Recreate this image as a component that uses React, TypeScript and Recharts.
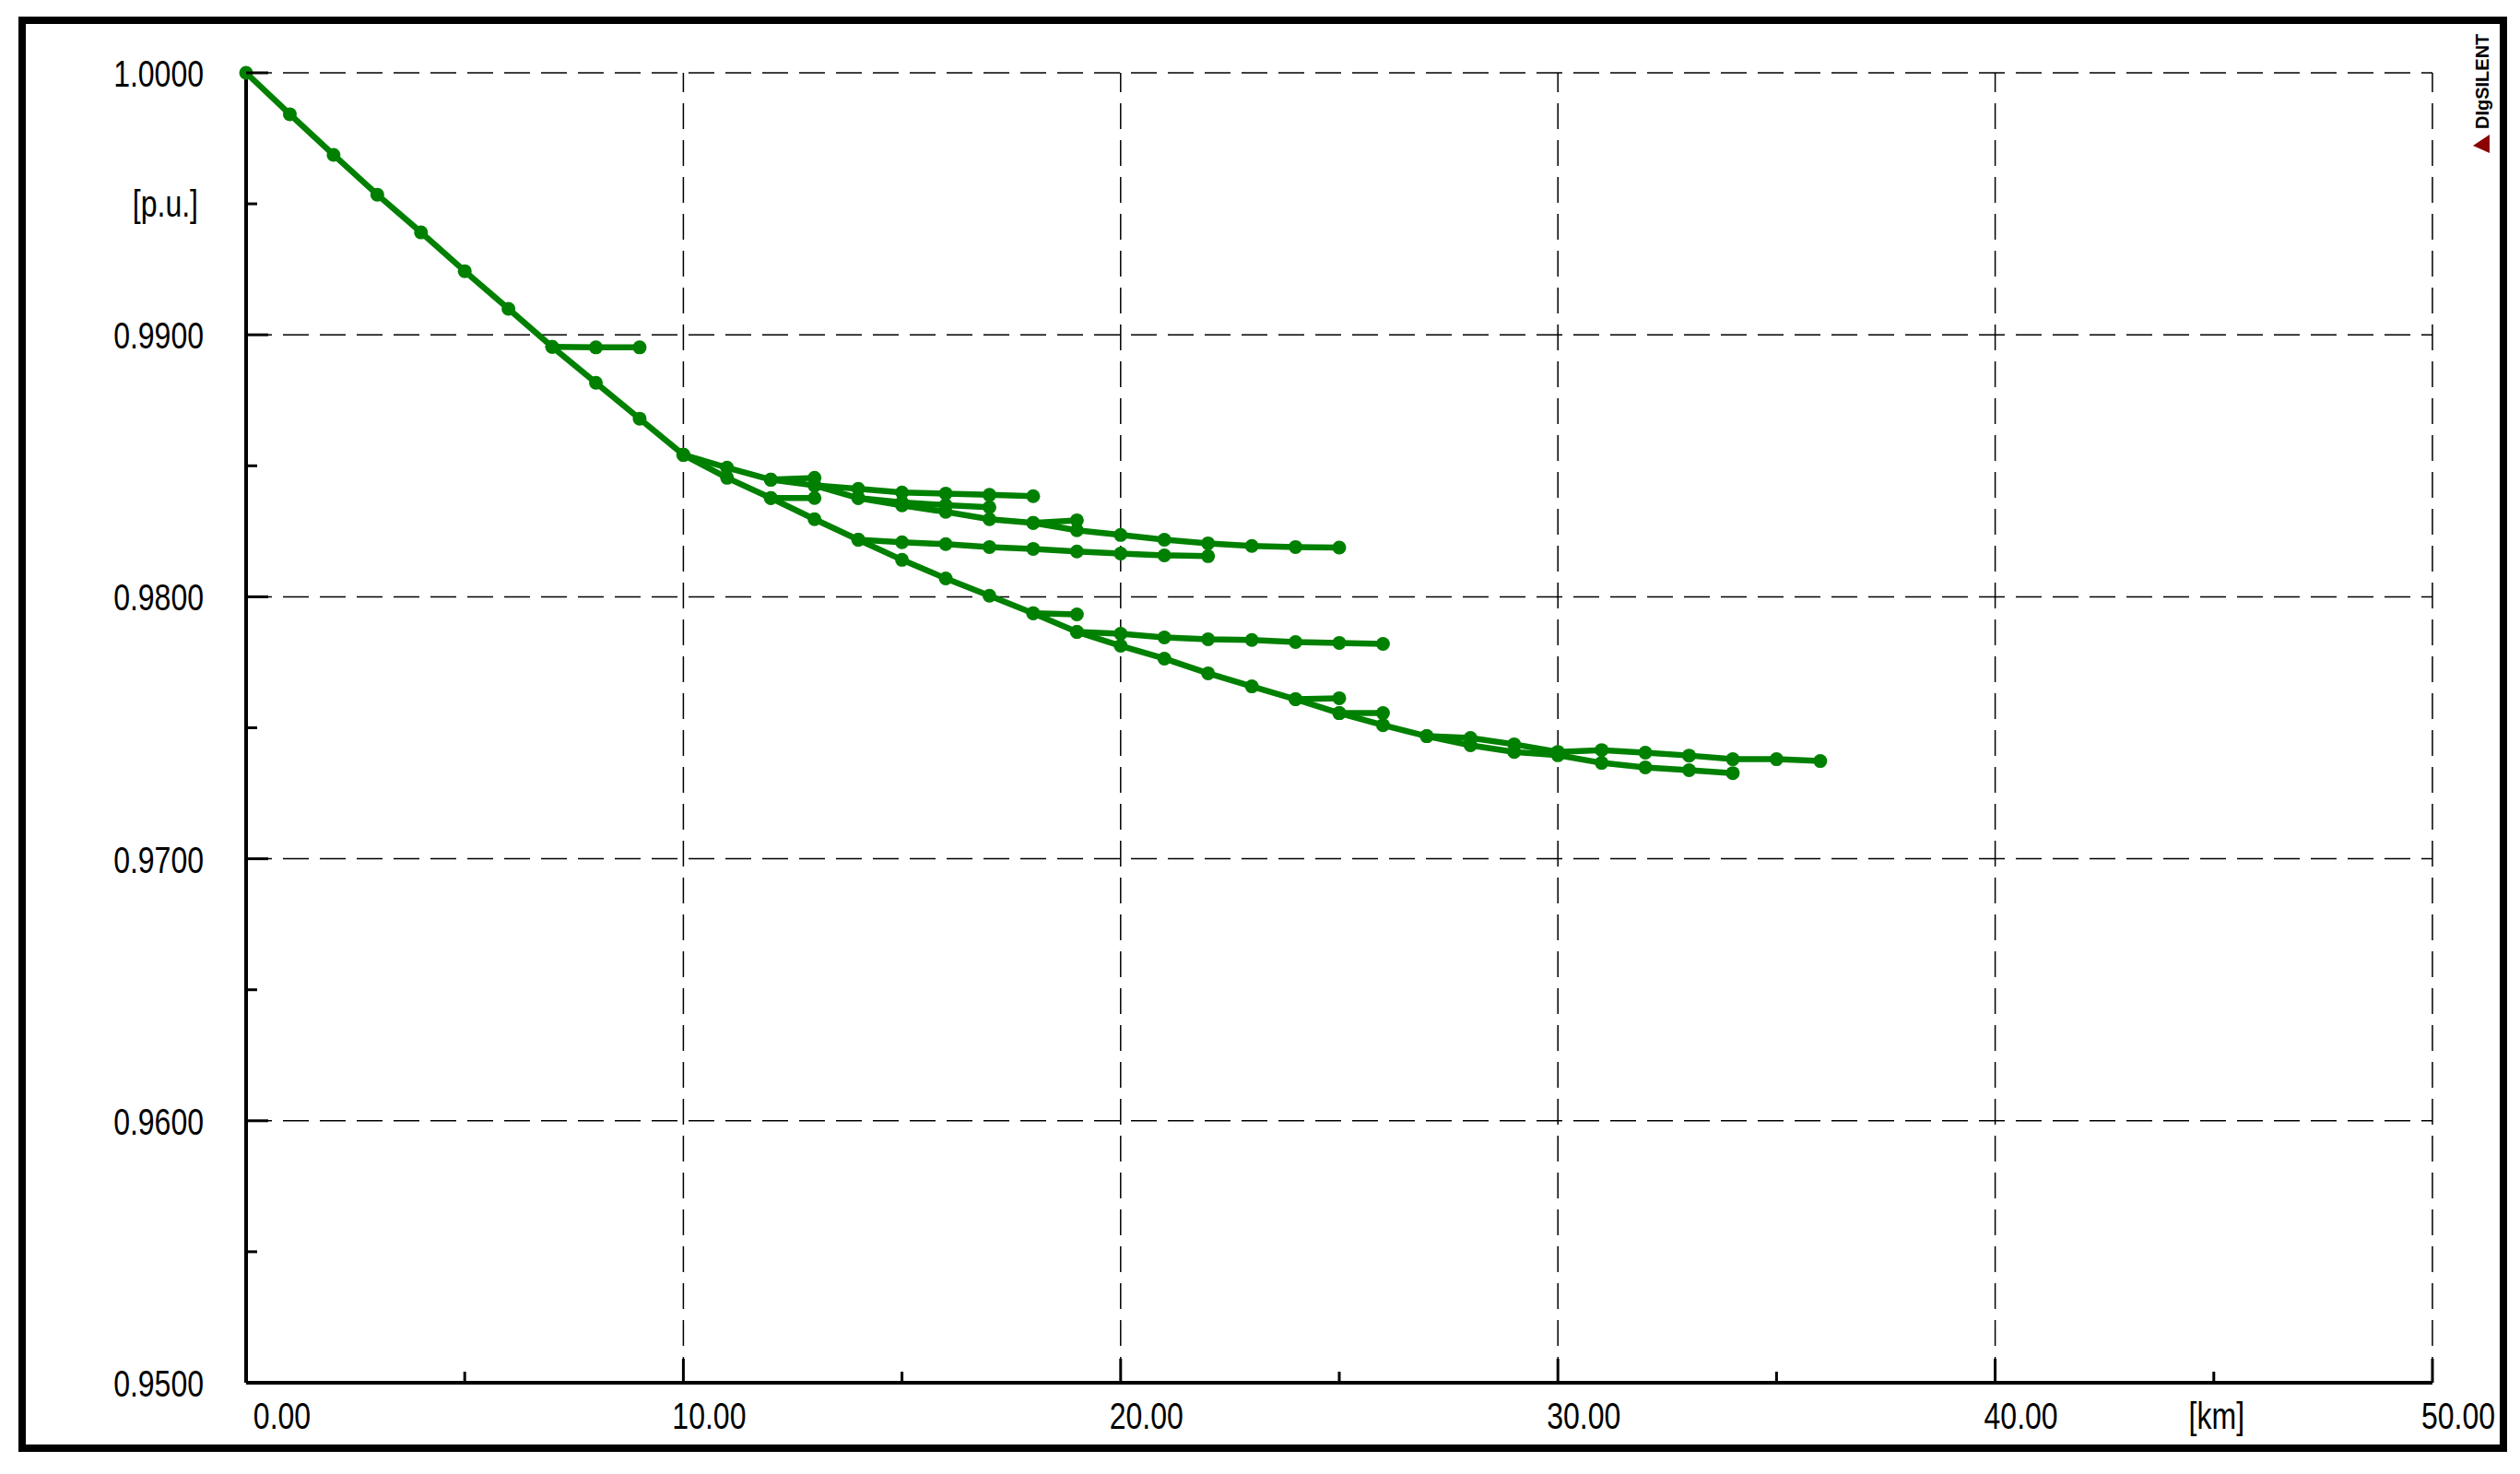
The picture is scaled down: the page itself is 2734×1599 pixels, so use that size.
import React from 'react';
import { LineChart, Line, XAxis, YAxis, ReferenceLine } from 'recharts';

const W = 2734;
const H = 1599;
const GREEN = '#008000';
const FONT = '"Liberation Sans", Arial, sans-serif';

// ---- axes ----
const xTicks = [0, 5, 10, 15, 20, 25, 30, 35, 40, 45, 50];
const xMajor = [10, 20, 30, 40, 50];
const xLabels: Record<number, string> = { 0: '0.00', 10: '10.00', 20: '20.00', 30: '30.00', 40: '40.00', 50: '50.00', 45: '[km]' };
const yTicks = [0.95, 0.955, 0.96, 0.965, 0.97, 0.975, 0.98, 0.985, 0.99, 0.995, 1.0];
const yMajor = [0.96, 0.97, 0.98, 0.99, 1.0];
const yLabels: Record<string, string> = { '0.95': '0.9500', '0.96': '0.9600', '0.97': '0.9700', '0.98': '0.9800', '0.99': '0.9900', '1': '1.0000', '0.995': '[p.u.]' };

// ---- series: [km, p.u.] ----
const trunkA: [number, number][] = [
  [0, 1.0], [1, 0.99842], [2, 0.99687], [3, 0.99535], [4, 0.99391], [5, 0.99243], [6, 0.99099],
  [7, 0.98954], [8, 0.98817], [9, 0.9868], [10, 0.98542],
];
const trunkB: [number, number][] = [
  [10, 0.98542], [11, 0.98454], [12, 0.98377], [13, 0.98296], [14, 0.98218], [15, 0.98141], [16, 0.9807],
  [17, 0.98004], [18, 0.97937], [19, 0.97866], [20, 0.97813], [21, 0.97764], [22, 0.97708], [23, 0.97658],
  [24, 0.97609], [25, 0.97556], [26, 0.9751], [27, 0.97468], [28, 0.97433], [29, 0.97408], [30, 0.97395],
  [31, 0.97366], [32, 0.97349], [33, 0.97338], [34, 0.97327],
];
const branch7: [number, number][] = [[7, 0.98954], [8, 0.98952], [9, 0.98952]];
const upperTop: [number, number][] = [
  [10, 0.98542], [11, 0.98493], [12, 0.98447], [13, 0.98425], [14, 0.98412], [15, 0.98398],
  [16, 0.98394], [17, 0.98389], [18, 0.98384],
];
const upperStub: [number, number][] = [[12, 0.98447], [13, 0.98454]];
const upperMid: [number, number][] = [
  [13, 0.98425], [14, 0.98377], [15, 0.98349], [16, 0.98324], [17, 0.98296], [18, 0.98282], [19, 0.98254],
  [20, 0.98236], [21, 0.98218], [22, 0.98204], [23, 0.98194], [24, 0.9819], [25, 0.98188],
];
const upperSide: [number, number][] = [[14, 0.98377], [15, 0.9836], [16, 0.9835], [17, 0.98342]];
const midStub: [number, number][] = [[18, 0.98282], [19, 0.98292]];
const trunkStub12: [number, number][] = [[12, 0.98377], [13, 0.98377]];
const branch14: [number, number][] = [
  [14, 0.98218], [15, 0.98208], [16, 0.98201], [17, 0.9819], [18, 0.98183], [19, 0.98173],
  [20, 0.98165], [21, 0.98158], [22, 0.98155],
];
const stub18: [number, number][] = [[18, 0.97937], [19, 0.97933]];
const branch19: [number, number][] = [
  [19, 0.97866], [20, 0.97859], [21, 0.97845], [22, 0.97838], [23, 0.97835], [24, 0.97827],
  [25, 0.97824], [26, 0.9782],
];
const stub24: [number, number][] = [[24, 0.97609], [25, 0.97613]];
const stub25: [number, number][] = [[25, 0.97556], [26, 0.97556]];
const branch27: [number, number][] = [
  [27, 0.97468], [28, 0.97461], [29, 0.97437], [30, 0.97408], [31, 0.97415], [32, 0.97405],
  [33, 0.97394], [34, 0.9738], [35, 0.9738], [36, 0.97373],
];

const series = [
  trunkA, trunkB, branch7, upperTop, upperStub, upperMid, upperSide, midStub, trunkStub12,
  branch14, stub18, branch19, stub24, stub25, branch27,
];

const toData = (s: [number, number][]) => s.map(([km, v]) => ({ km, v }));

const isMajorY = (v: number) => Math.abs(v * 100 - Math.round(v * 100)) < 1e-6;

const XTick = (props: any) => {
  const { x, y, payload } = props;
  const v = payload.value as number;
  const major = v % 10 === 0;
  const label = xLabels[v];
  const dx = v === 0 ? 39 : v === 45 ? 3 : 28;
  return (
    <g>
      {v !== 0 && (
        <line x1={x} y1={y} x2={x} y2={y - (major ? 26 : 12)} stroke="#000" strokeWidth={3} />
      )}
      {label && (
        <g transform={`translate(${x + dx},${y + 50})`}>
          <text transform="scale(0.8,1)" textAnchor="middle" fontSize={40} fontFamily={FONT} fill="#000">
            {label}
          </text>
        </g>
      )}
    </g>
  );
};

const YTick = (props: any) => {
  const { x, y, payload } = props;
  const v = payload.value as number;
  const major = isMajorY(v);
  const key = String(Math.round(v * 1000) / 1000);
  const label = yLabels[key];
  const isUnit = label === '[p.u.]';
  return (
    <g>
      {Math.abs(v - 0.95) > 1e-6 && (
        <line x1={x} y1={y} x2={x + (major ? 24 : 12)} y2={y} stroke="#000" strokeWidth={3} />
      )}
      {label && (
        <g transform={`translate(${x - (isUnit ? 52 : 46)},${y + (isUnit ? 14 : 15)})`}>
          <text transform="scale(0.8,1)" textAnchor="end" fontSize={40} fontFamily={FONT} fill="#000">
            {label}
          </text>
        </g>
      )}
    </g>
  );
};

export default function App() {
  return (
    <div style={{ position: 'absolute', left: 0, top: 0, width: W, height: H, background: '#fff' }}>
      <LineChart
        width={W}
        height={H}
        margin={{ top: 79, right: 95, bottom: 39, left: 67 }}
      >
        <XAxis
          type="number"
          dataKey="km"
          domain={[0, 50]}
          ticks={xTicks}
          interval={0}
          height={60}
          tickSize={0}
          tickMargin={0}
          tickLine={false}
          axisLine={{ stroke: '#000', strokeWidth: 4 }}
          tick={XTick}
          allowDuplicatedCategory={false}
        />
        <YAxis
          type="number"
          domain={[0.95, 1.0]}
          ticks={yTicks}
          interval={0}
          width={200}
          tickSize={0}
          tickMargin={0}
          tickLine={false}
          axisLine={{ stroke: '#000', strokeWidth: 4 }}
          tick={YTick}
        />
        {yMajor.map((v) => (
          <ReferenceLine key={'y' + v} y={v} stroke="#000" strokeWidth={1.5} strokeDasharray="28 12" />
        ))}
        {xMajor.map((v) => (
          <ReferenceLine key={'x' + v} x={v} stroke="#000" strokeWidth={1.5} strokeDasharray="28 12" />
        ))}
        {series.map((s, i) => (
          <Line
            key={i}
            data={toData(s)}
            dataKey="v"
            type="linear"
            stroke={GREEN}
            strokeWidth={6.5}
            dot={{ r: 7.5, fill: GREEN, stroke: 'none' }}
            activeDot={false}
            isAnimationActive={false}
          />
        ))}
      </LineChart>
      <svg
        width={W}
        height={H}
        style={{ position: 'absolute', left: 0, top: 0, pointerEvents: 'none' }}
      >
        <rect x={24} y={22} width={2692} height={1549} fill="none" stroke="#000" strokeWidth={8} />
        <text
          x={2700}
          y={140}
          transform="rotate(-90 2700 140)"
          fontSize={20}
          fontWeight="bold"
          fontFamily={FONT}
          fill="#000"
        >
          DIgSILENT
        </text>
        <polygon points="2683,158 2701,146 2701,166" fill="#8B0000" />
      </svg>
    </div>
  );
}
